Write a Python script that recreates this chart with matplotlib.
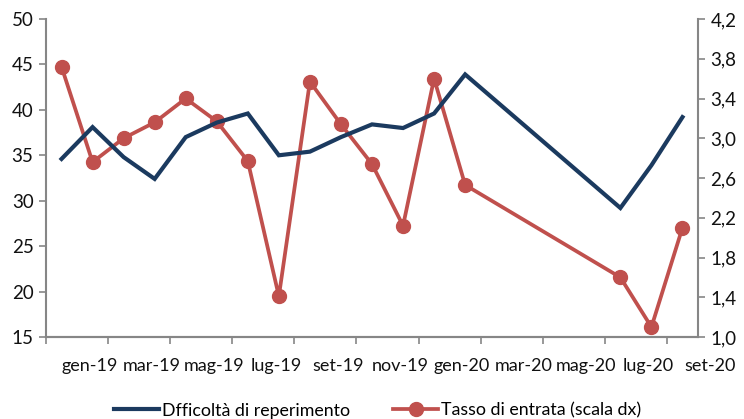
import numpy as np
import matplotlib
matplotlib.use("Agg")
import matplotlib.pyplot as plt

plt.rcParams['font.family'] = ['Lato', 'DejaVu Sans']

# months counted from dic-18 (0) to ago-20 (20); feb-mag 2020 missing
months = [0, 1, 2, 3, 4, 5, 6, 7, 8, 9, 10, 11, 12, 13, 18, 19, 20]
difficolta = [34.6, 38.1, 34.8, 32.4, 37.0, 38.6, 39.6, 35.0, 35.4, 37.0,
              38.4, 38.0, 39.6, 43.9, 29.2, 33.9, 39.2]
tasso = [3.72, 2.76, 3.00, 3.16, 3.40, 3.17, 2.77, 1.41, 3.57, 3.14,
         2.74, 2.12, 3.60, 2.53, 1.60, 1.10, 2.10]

tick_labels = ["gen-19", "mar-19", "mag-19", "lug-19", "set-19", "nov-19",
               "gen-20", "mar-20", "mag-20", "lug-20", "set-20"]
label_pos = [1, 3, 5, 7, 9, 11, 13, 15, 17, 19, 21]

blue = "#1B3A5F"
red = "#C0504D"
grey = "#868686"

fig = plt.figure(figsize=(7.44, 4.19), dpi=100)
ax = fig.add_axes([46 / 744, 82 / 419, 652 / 744, 318 / 419])
ax2 = ax.twinx()

l1, = ax.plot(months, difficolta, color=blue, lw=3.0, solid_joinstyle="miter",
              label="Dfficoltà di reperimento", zorder=3)
l2, = ax2.plot(months, tasso, color=red, lw=2.7, marker="o", markersize=10,
               label="Tasso di entrata (scala dx)", zorder=2)
ax.set_zorder(ax2.get_zorder() + 1)
ax.patch.set_visible(False)

ax.set_xlim(-0.5, 20.5)
ax.set_ylim(15, 50)
ax.set_yticks(np.arange(15, 51, 5))
ax2.set_ylim(1.0, 4.2)
ax2.set_yticks(np.arange(1.0, 4.21, 0.4))
ax2.set_yticklabels([f"{v:.1f}".replace(".", ",") for v in np.arange(1.0, 4.21, 0.4)])

ax.set_xticks(np.arange(-0.5, 20, 2))
ax.set_xticklabels([])
for p, t in zip(label_pos, tick_labels):
    ax.text(p - 0.1, -0.09, t, transform=ax.get_xaxis_transform(),
            ha="center", va="center", fontsize=13, color="#111111",
            clip_on=False)

for a in (ax, ax2):
    a.spines["top"].set_visible(False)
    for s in ("left", "right", "bottom"):
        a.spines[s].set_color(grey)
        a.spines[s].set_linewidth(1.5)
    a.tick_params(axis="both", direction="out", length=5, width=1.2,
                  color=grey, labelsize=13.5, labelcolor="#111111", pad=4)
ax.spines["right"].set_visible(False)
ax2.spines["left"].set_visible(False)

fig.legend(handles=[l1, l2], loc="center", bbox_to_anchor=(0.508, 0.02),
           ncol=2, frameon=False, fontsize=12.8, handlelength=2.5,
           handletextpad=0.2, columnspacing=2.4)

fig.savefig("out.png", dpi=100)
